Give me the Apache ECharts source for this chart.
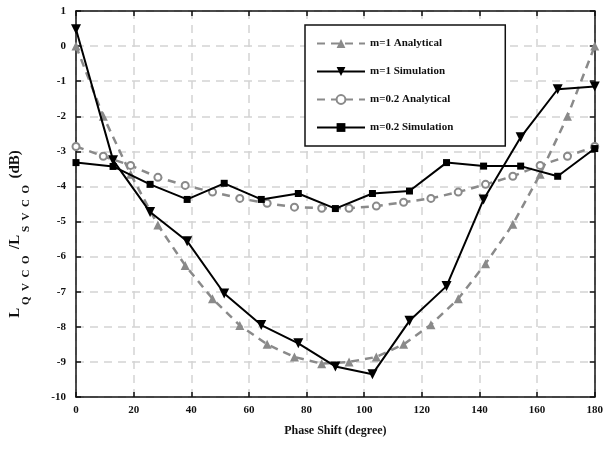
<!DOCTYPE html>
<html>
<head>
<meta charset="utf-8">
<script src="https://cdn.jsdelivr.net/npm/echarts@6/dist/echarts.min.js"></script>
<style>
  html, body { margin: 0; padding: 0; background: #fff; }
  #chart { width: 606px; height: 452px; }
</style>
</head>
<body>
<div id="chart"></div>
<script>
// phase shift positions (degree)
const anaX = [0, 9.47, 18.95, 28.42, 37.89, 47.37, 56.84, 66.32, 75.79, 85.26, 94.74, 104.21, 113.68, 123.16, 132.63, 142.11, 151.58, 161.05, 170.53, 180];
const simX = [0, 12.86, 25.71, 38.57, 51.43, 64.29, 77.14, 90, 102.86, 115.71, 128.57, 141.43, 154.29, 167.14, 180];

// L_QVCO / L_SVCO (dB)
const m1Analytical = [0, -2.0, -3.65, -5.1, -6.25, -7.2, -7.96, -8.5, -8.86, -9.05, -9.0, -8.86, -8.5, -7.94, -7.2, -6.2, -5.08, -3.65, -2.0, 0];
const m1Simulation = [0.48, -3.25, -4.73, -5.56, -7.05, -7.95, -8.47, -9.13, -9.35, -7.83, -6.84, -4.37, -2.6, -1.23, -1.15];
const m02Analytical = [-2.86, -3.14, -3.4, -3.74, -3.97, -4.16, -4.34, -4.48, -4.59, -4.62, -4.62, -4.56, -4.45, -4.34, -4.16, -3.94, -3.71, -3.4, -3.14, -2.86];
const m02Simulation = [-3.32, -3.43, -3.94, -4.37, -3.91, -4.37, -4.2, -4.63, -4.2, -4.13, -3.32, -3.42, -3.42, -3.71, -2.92];

const seriesNames = ["m=1 Analytical", "m=1 Simulation", "m=0.2 Analytical", "m=0.2 Simulation"];

const pair = (xs, ys) => xs.map((x, i) => [x, ys[i]]);

const font = "Liberation Serif";
const chart = echarts.init(document.getElementById("chart"));

const gridLine = { show: true, lineStyle: { color: "#d4d4d4", width: 1.5, type: [8, 6] } };
const frameLine = { show: true, onZero: false, lineStyle: { color: "#111", width: 1.5 } };
const innerTick = { inside: true, length: 5, lineStyle: { color: "#111", width: 1.5 } };

chart.setOption({
  animation: false,
  backgroundColor: "#fff",
  grid: { left: 71, right: 5, top: 11, bottom: 55 },
  legend: {
    orient: "vertical",
    left: 305,
    top: 25,
    padding: [13, 52, 13, 11],
    itemWidth: 48,
    itemHeight: 11,
    itemGap: 17,
    backgroundColor: "#fff",
    borderColor: "#111",
    borderWidth: 1.5,
    textStyle: { fontFamily: font, fontWeight: "bold", fontSize: 11, color: "#111" },
    data: seriesNames
  },
  xAxis: [
    {
      type: "value", min: 0, max: 180, interval: 20,
      name: "Phase Shift (degree)", nameLocation: "middle", nameGap: 28,
      nameTextStyle: { fontFamily: font, fontWeight: "bold", fontSize: 12, color: "#111" },
      axisLine: frameLine, axisTick: innerTick,
      axisLabel: { fontFamily: font, fontWeight: "bold", fontSize: 11, color: "#111", margin: 8 },
      splitLine: gridLine
    },
    {
      type: "value", min: 0, max: 180, interval: 20, position: "top",
      axisLine: frameLine, axisTick: innerTick,
      axisLabel: { show: false }, splitLine: { show: false }
    }
  ],
  yAxis: [
    {
      type: "value", min: -10, max: 1, interval: 1,
      name: "{b|L}{s| Q  V  C  O }{b| /L}{s| S  V  C  O }{b| (dB)}",
      nameLocation: "middle", nameGap: 44, nameRotate: 90,
      nameTextStyle: {
        color: "#111",
        padding: [0, 60, 0, 0],
        rich: {
          b: { fontFamily: font, fontWeight: "bold", fontSize: 15, color: "#111", lineHeight: 24, verticalAlign: "top" },
          s: { fontFamily: font, fontWeight: "bold", fontSize: 11, color: "#111", lineHeight: 24, verticalAlign: "bottom" }
        }
      },
      axisLine: frameLine, axisTick: innerTick,
      axisLabel: { fontFamily: font, fontWeight: "bold", fontSize: 11, color: "#111", margin: 10 },
      splitLine: gridLine
    },
    {
      type: "value", min: -10, max: 1, interval: 1, position: "right",
      axisLine: frameLine, axisTick: innerTick,
      axisLabel: { show: false }, splitLine: { show: false }
    }
  ],
  series: [
    {
      name: seriesNames[0], type: "line", data: pair(anaX, m1Analytical),
      symbol: "triangle", symbolSize: 9,
      lineStyle: { color: "#8a8a8a", width: 2.5, type: [8, 6] },
      itemStyle: { color: "#8a8a8a" }, z: 2
    },
    {
      name: seriesNames[1], type: "line", data: pair(simX, m1Simulation),
      symbol: "triangle", symbolRotate: 180, symbolSize: 10,
      lineStyle: { color: "#000", width: 2 },
      itemStyle: { color: "#000" }, z: 4
    },
    {
      name: seriesNames[2], type: "line", data: pair(anaX, m02Analytical),
      symbol: "emptyCircle", symbolSize: 7,
      lineStyle: { color: "#8a8a8a", width: 2.5, type: [8, 6] },
      itemStyle: { color: "#8a8a8a", borderWidth: 2 }, z: 2
    },
    {
      name: seriesNames[3], type: "line", data: pair(simX, m02Simulation),
      symbol: "rect", symbolSize: 7,
      lineStyle: { color: "#000", width: 2 },
      itemStyle: { color: "#000" }, z: 4
    }
  ]
});
</script>
</body>
</html>
